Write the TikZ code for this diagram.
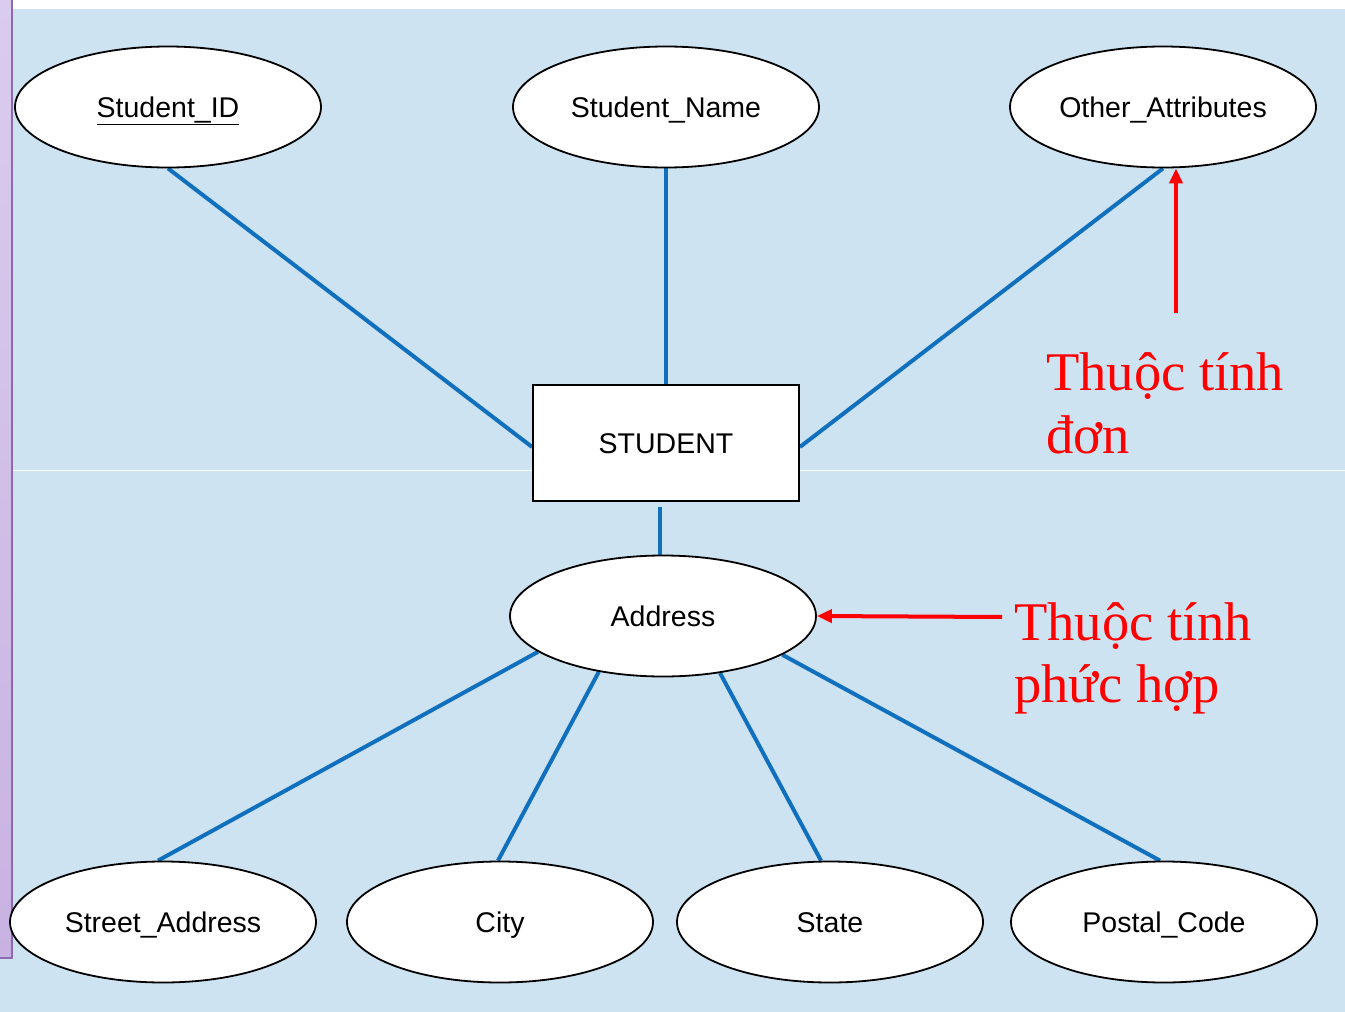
\documentclass[tikz,border=0pt]{standalone}
\usepackage{fontspec}
\setmainfont{Liberation Serif}
\newfontfamily\lblfont{Liberation Sans}
\usetikzlibrary{shapes.geometric,arrows.meta}
\definecolor{bgblue}{RGB}{205,227,241}
\definecolor{lineblue}{RGB}{16,112,190}
\definecolor{barfill}{RGB}{218,204,238}
\definecolor{barfillb}{RGB}{200,178,226}
\definecolor{baredge}{RGB}{138,106,176}
\definecolor{notered}{RGB}{255,0,0}
\pgfdeclarelayer{bglayer}
\pgfdeclarelayer{linelayer}
\pgfsetlayers{bglayer,linelayer,main}
\tikzset{
  lbl/.style={font=\lblfont\fontsize{28.5}{32}\selectfont, text height=20pt, text depth=0pt},
  attr/.style={ellipse, draw=black, line width=1.8pt, fill=white, minimum width=306pt, minimum height=121pt, inner sep=0pt, lbl},
  entity/.style={rectangle, draw=black, line width=1.8pt, fill=white, minimum width=266pt, minimum height=116pt, inner sep=0pt, lbl},
  link/.style={draw=lineblue, line width=4pt},
  notearrow/.style={draw=notered, line width=4pt, -{Triangle[length=15pt,width=13pt]}},
  note/.style={text=notered, anchor=base west, inner sep=0pt, font=\fontsize{54.5}{64}\selectfont}
}
\begin{document}
\begin{tikzpicture}[x=1pt,y=-1pt]
\useasboundingbox (0,0) rectangle (1345,1012);
\begin{pgfonlayer}{bglayer}
\fill[white] (0,0) rectangle (1345,1012);
\fill[bgblue] (0,9) rectangle (1345,1012);
\shade[top color=barfill, bottom color=barfillb] (0,0) rectangle (12,958);
\draw[baredge, line width=2pt] (12,0) -- (12,958) -- (0,958);
\draw[white, line width=0.8pt, opacity=0.8] (13,470) -- (1345,470);
\end{pgfonlayer}

% nodes
\node[attr] (sid) at (168,107) {\underline{Student\_ID}};
\node[attr] (sn) at (666,107) {Student\_Name};
\node[attr] (oa) at (1163,107) {Other\_Attributes};
\node[entity] (stu) at (666,443) {STUDENT};
\node[attr] (addr) at (663,616) {Address};
\node[attr] (sa) at (163,922) {Street\_Address};
\node[attr] (city) at (500,922) {City};
\node[attr] (st) at (830,922) {State};
\node[attr] (pc) at (1164,922) {Postal\_Code};

% connectors
\begin{pgfonlayer}{linelayer}
\draw[link] (sid.south) -- ([yshift=-4pt]stu.west);
\draw[link] (sn.south) -- (stu.north);
\draw[link] (oa.south) -- ([yshift=-4pt]stu.east);
\draw[link, shorten <=5pt] ([xshift=-6pt]stu.south) -- ([xshift=-3pt]addr.north);
\draw[link] (addr.196.7) -- ([xshift=-5pt]sa.north);
\draw[link] (addr.221.6) -- ([xshift=-2pt]city.north);
\draw[link] (addr.315) -- ([xshift=-9pt]st.north);
\draw[link] (addr.342) -- ([xshift=-4pt]pc.north);
\end{pgfonlayer}

% annotations
\coordinate (a1) at (1176,313);
\draw[notearrow] (a1) -- ([xshift=13pt]oa.south);
\coordinate (a2) at (1002,617);
\draw[notearrow] (a2) -- (addr.east);
\node[note] (n1a) at (1046,390) {Thuộc tính};
\node[note] (n1b) at (1046,453) {đơn};
\node[note] (n2a) at (1014,640) {Thuộc tính};
\node[note] (n2b) at (1014,702) {phức hợp};
\end{tikzpicture}
\end{document}
